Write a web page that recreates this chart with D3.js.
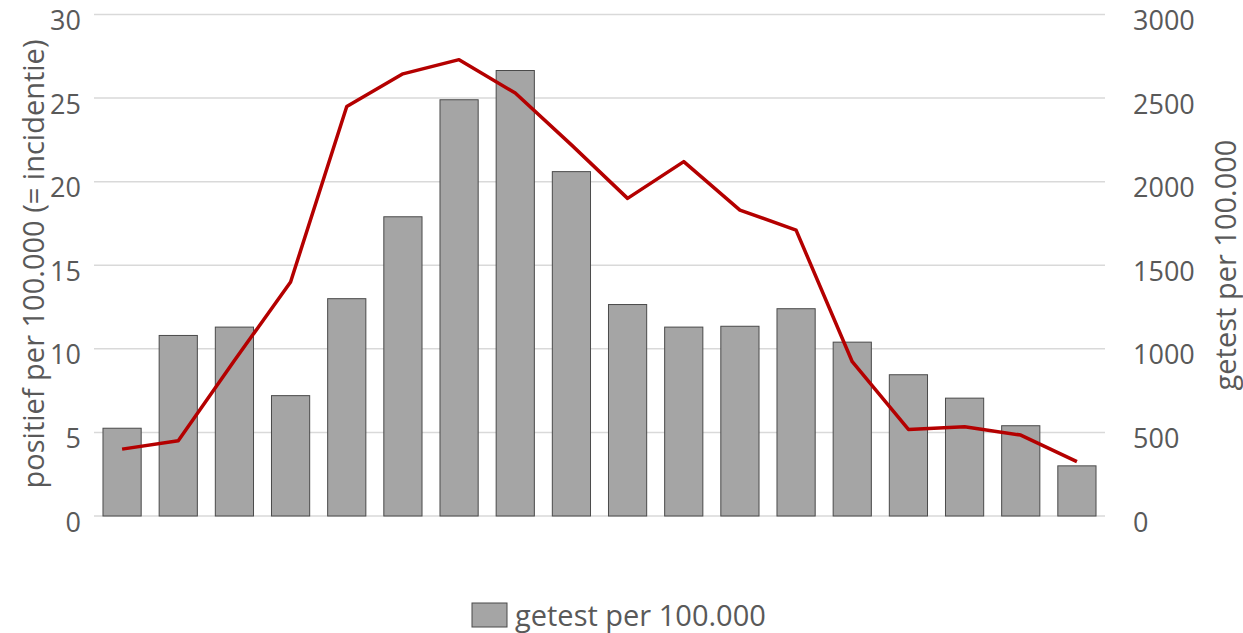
<!DOCTYPE html>
<html><head><meta charset="utf-8">
<script src="https://cdn.jsdelivr.net/npm/d3@7"></script>
<style>body{margin:0;background:#fff}svg{display:block}text{font-family:"Open Sans",sans-serif;fill:#595959}</style>
</head><body><svg id="c" width="1243" height="633"></svg>
<script>
const categories = d3.range(1, 19).map(String);
const tested = [525, 1080, 1130, 720, 1300, 1790, 2490, 2665, 2060, 1265, 1130, 1135, 1240, 1040, 845, 705, 540, 300];
const positive = [4.0, 4.5, 9.3, 14.0, 24.5, 26.45, 27.3, 25.3, 22.2, 19.0, 21.2, 18.3, 17.1, 9.23, 5.18, 5.34, 4.84, 3.25];
const leftTicks = [0, 5, 10, 15, 20, 25, 30];
const rightTicks = [0, 500, 1000, 1500, 2000, 2500, 3000];
const leftTitle = "positief per 100.000 (= incidentie)";
const rightTitle = "getest per 100.000";
const legendLabel = "getest per 100.000";

const svg = d3.select("#c");
const x0 = 94, x1 = 1105, yTop = 14.5, yBot = 516;
const x = d3.scaleBand().domain(categories).range([x0, x1]).paddingInner(0.32).paddingOuter(0.16);
const yL = d3.scaleLinear().domain([0, 30]).range([yBot, yTop]);
const yR = d3.scaleLinear().domain([0, 3000]).range([yBot, yTop]);

// gridlines
svg.append("g").selectAll("line").data(leftTicks).join("line")
  .attr("x1", x0).attr("x2", x1).attr("y1", d => yL(d)).attr("y2", d => yL(d))
  .attr("stroke", "#d9d9d9").attr("stroke-width", 1.5);

// left axis
const gl = svg.append("g").attr("transform", `translate(${x0 - 13},0)`)
  .call(d3.axisLeft(yL).tickValues(leftTicks).tickSize(0).tickPadding(0));
gl.select(".domain").remove();
gl.selectAll("text").attr("font-size", 27).attr("dy", "15px").style("fill", "#595959").attr("font-family", "Open Sans");

// right axis
const gr = svg.append("g").attr("transform", `translate(${x1 + 28},0)`)
  .call(d3.axisRight(yR).tickValues(rightTicks).tickSize(0).tickPadding(0).tickFormat(d3.format("d")));
gr.select(".domain").remove();
gr.selectAll("text").attr("font-size", 27).attr("dy", "15px").style("fill", "#595959").attr("font-family", "Open Sans");

// bars
svg.append("g").selectAll("rect").data(tested).join("rect")
  .attr("x", (d, i) => x(categories[i])).attr("width", x.bandwidth())
  .attr("y", d => yR(d)).attr("height", d => yR(0) - yR(d))
  .attr("fill", "#a5a5a5").attr("stroke", "#4a4a4a").attr("stroke-width", 1);

// line
const line = d3.line().x((d, i) => x(categories[i]) + x.bandwidth() / 2).y(d => yL(d));
svg.append("path").datum(positive).attr("d", line)
  .attr("fill", "none").attr("stroke", "#b40000").attr("stroke-width", 3.5).attr("stroke-linejoin", "round");

// axis titles
svg.append("text").attr("transform", `translate(44,264) rotate(-90)`)
  .attr("text-anchor", "middle").attr("font-size", 29).text(leftTitle);
svg.append("text").attr("transform", `translate(1236,265) rotate(-90)`)
  .attr("text-anchor", "middle").attr("font-size", 29).text(rightTitle);

// legend
const lg = svg.append("g");
lg.append("rect").attr("x", 472).attr("y", 603).attr("width", 35).attr("height", 24)
  .attr("fill", "#a5a5a5").attr("stroke", "#4a4a4a").attr("stroke-width", 1);
lg.append("text").attr("x", 515).attr("y", 626).attr("font-size", 29).text(legendLabel);
</script></body></html>
